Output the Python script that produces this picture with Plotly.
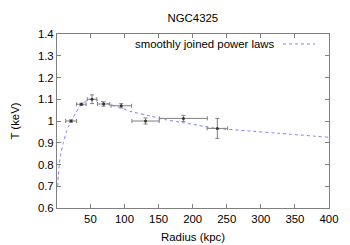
import plotly.graph_objects as go

# Data points (radius in kpc, temperature in keV)
radius = [21.7, 36.7, 52.4, 69.4, 95.3, 130.9, 186.5, 236.2]
radius_err = [8, 7, 7, 9, 15, 20, 35, 15]
temp = [1.0, 1.077, 1.10, 1.078, 1.07, 1.0, 1.012, 0.966]
temp_err = [0.005, 0.005, 0.02, 0.01, 0.01, 0.014, 0.014, 0.046]

# Model curve
model_r = [2, 3, 4.5, 7, 10, 14.8, 18, 22, 28, 33, 38, 45, 52, 60, 70, 80, 94, 108, 138, 160, 186, 210, 235, 280, 328, 400]
model_t = [0.70, 0.75, 0.805, 0.855, 0.897, 0.95, 0.975, 1.0, 1.035, 1.06, 1.078, 1.095, 1.102, 1.097,
           1.085, 1.075, 1.062, 1.045, 1.023, 1.006, 0.992, 0.979, 0.966, 0.955, 0.943, 0.925]

x_ticks = [50, 100, 150, 200, 250, 300, 350, 400]
y_ticks = [0.6, 0.7, 0.8, 0.9, 1.0, 1.1, 1.2, 1.3, 1.4]
y_tick_labels = ["0.6", "0.7", "0.8", "0.9", "1", "1.1", "1.2", "1.3", "1.4"]

FONT = "Liberation Sans, Arial, sans-serif"
FS = 11.4
LINE_COLOR = "#7f7fff"

fig = go.Figure()
fig.add_trace(go.Scatter(
    x=model_r, y=model_t, mode="lines",
    line=dict(color=LINE_COLOR, width=1, dash="dot", shape="spline", smoothing=0.6),
    hoverinfo="skip", showlegend=False,
))
fig.add_trace(go.Scatter(
    x=radius, y=temp, mode="markers",
    marker=dict(color="#333333", size=3, symbol="circle"),
    error_x=dict(type="data", array=radius_err, color="#808080", thickness=1, width=2),
    error_y=dict(type="data", array=temp_err, color="#808080", thickness=1, width=2),
    showlegend=False,
))

axis_common = dict(
    showgrid=False, zeroline=False, showline=True, linecolor="#808080", linewidth=1,
    mirror="ticks", ticks="inside", ticklen=4, tickcolor="#808080", automargin=False,
    tickfont=dict(family=FONT, size=FS, color="#000000"),
)
fig.update_xaxes(range=[1, 400], tickvals=x_ticks, ticktext=[str(v) for v in x_ticks],
                 title=dict(text="Radius (kpc)", font=dict(family=FONT, size=FS, color="#000"), standoff=9),
                 **axis_common)
fig.update_yaxes(range=[0.6, 1.4], tickvals=y_ticks, ticktext=y_tick_labels,
                 title=dict(text="T (keV)", font=dict(family=FONT, size=FS, color="#000"), standoff=15),
                 **axis_common)

# Legend drawn gnuplot-style (text then line sample)
fig.add_annotation(xref="paper", yref="paper", x=0.809, y=0.943, xanchor="right", yanchor="middle",
                   text="smoothly joined power laws", showarrow=False,
                   font=dict(family=FONT, size=FS, color="#000"))
fig.add_shape(type="line", xref="paper", yref="paper", x0=0.831, x1=0.949, y0=0.943, y1=0.943,
              line=dict(color=LINE_COLOR, width=1, dash="dot"))

fig.update_layout(
    width=350, height=245,
    margin=dict(l=57, r=21, t=34, b=37),
    paper_bgcolor="white", plot_bgcolor="white",
    title=dict(text="NGC4325", x=0.551, xanchor="center", y=0.925, yanchor="middle",
               font=dict(family=FONT, size=FS, color="#000")),
)

fig.write_html("out.html", config={"displayModeBar": False},
               post_script="document.body.style.margin='0';")
